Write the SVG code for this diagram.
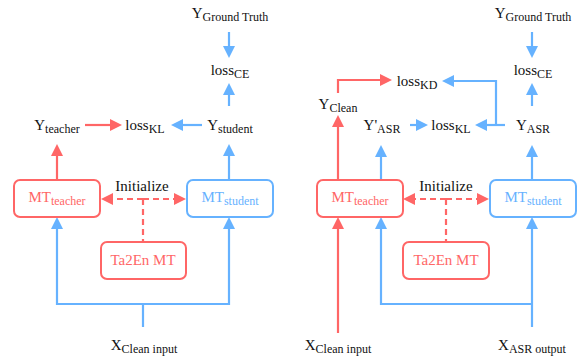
<svg xmlns="http://www.w3.org/2000/svg" width="580" height="356" viewBox="0 0 580 356" font-family="'Liberation Serif', 'DejaVu Serif', serif">
<style>
text{font-family:'Liberation Serif','DejaVu Serif',serif;font-size:15px;fill:#111;text-anchor:middle}
.s{font-size:12px}
.box{fill:#fff;stroke-width:2}
.rb{stroke:#FF6666}.bb{stroke:#66B2FF}
.rt{fill:#FF6666}.bt{fill:#66B2FF}
.cr{fill:none;stroke:#FF6666;stroke-width:2.2}
.cb{fill:none;stroke:#66B2FF;stroke-width:2.2}
.dash{stroke-dasharray:6 4}
</style>
<defs>
<marker id="ar" markerUnits="userSpaceOnUse" markerWidth="12" markerHeight="12" refX="1" refY="6" orient="auto"><path d="M0,0 L12,6 L0,12 z" fill="#FF6666"/></marker>
<marker id="ab" markerUnits="userSpaceOnUse" markerWidth="12" markerHeight="12" refX="1" refY="6" orient="auto"><path d="M0,0 L12,6 L0,12 z" fill="#66B2FF"/></marker>
</defs>
<g id="connectors">
<path class="cb" d="M229,32 V47" marker-end="url(#ab)"/>
<path class="cb" d="M229,106 V94" marker-end="url(#ab)"/>
<path class="cr" d="M85,125 H111" marker-end="url(#ar)"/>
<path class="cb" d="M202,125 H182" marker-end="url(#ab)"/>
<path class="cr" d="M57,179 V155" marker-end="url(#ar)"/>
<path class="cb" d="M229,179 V155" marker-end="url(#ab)"/>
<path class="cr dash" d="M143,199 H112" marker-end="url(#ar)"/>
<path class="cr dash" d="M143,199 H175" marker-end="url(#ar)"/>
<path class="cr dash" d="M143,199 V241"/>
<path class="cb" d="M143,327 V304 H57 V228" marker-end="url(#ab)"/>
<path class="cb" d="M143,304 H229 V228" marker-end="url(#ab)"/>
<path class="cb" d="M532,32 V47" marker-end="url(#ab)"/>
<path class="cb" d="M532,106 V94" marker-end="url(#ab)"/>
<path class="cr" d="M338,93 V80 H381" marker-end="url(#ar)"/>
<path class="cb" d="M505,125 H486" marker-end="url(#ab)"/>
<path class="cb" d="M496,125 V81 H453" marker-end="url(#ab)"/>
<path class="cb" d="M410,125 H417" marker-end="url(#ab)"/>
<path class="cr" d="M338,179 V126" marker-end="url(#ar)"/>
<path class="cb" d="M381,179 V156" marker-end="url(#ab)"/>
<path class="cb" d="M532,179 V156" marker-end="url(#ab)"/>
<path class="cr dash" d="M446,199 H414" marker-end="url(#ar)"/>
<path class="cr dash" d="M446,199 H478" marker-end="url(#ar)"/>
<path class="cr dash" d="M446,199 V241"/>
<path class="cr" d="M338,333 V228" marker-end="url(#ar)"/>
<path class="cb" d="M532,327 V228" marker-end="url(#ab)"/>
<path class="cb" d="M532,304 H381 V228" marker-end="url(#ab)"/>
</g>
<g id="L_gt"><text x="230" y="18">Y<tspan class="s" dy="3">Ground Truth</tspan></text></g>
<g id="L_lossCE"><text x="230" y="75">loss<tspan class="s" dy="3">CE</tspan></text></g>
<g id="L_yteacher"><text x="57" y="130">Y<tspan class="s" dy="3">teacher</tspan></text></g>
<g id="L_lossKL"><text x="145" y="130">loss<tspan class="s" dy="3">KL</tspan></text></g>
<g id="L_ystudent"><text x="230" y="130">Y<tspan class="s" dy="3">student</tspan></text></g>
<g id="L_mtteacher"><rect class="box rb" x="14" y="180" width="86" height="37" rx="6"/><text class="rt" x="57" y="202">MT<tspan class="s" dy="3">teacher</tspan></text></g>
<g id="L_mtstudent"><rect class="box bb" x="187" y="180" width="86" height="37" rx="6"/><text class="bt" x="230" y="202">MT<tspan class="s" dy="3">student</tspan></text></g>
<g id="L_init"><text x="142" y="191">Initialize</text></g>
<g id="L_ta2en"><rect class="box rb" x="101" y="242" width="85" height="37" rx="6"/><text class="rt" x="143" y="265">Ta2En MT</text></g>
<g id="L_xclean"><text x="144" y="350">X<tspan class="s" dy="3">Clean input</tspan></text></g>
<g id="R_gt"><text x="533" y="18">Y<tspan class="s" dy="3">Ground Truth</tspan></text></g>
<g id="R_lossCE"><text x="533" y="75">loss<tspan class="s" dy="3">CE</tspan></text></g>
<g id="R_lossKD"><text x="417" y="86">loss<tspan class="s" dy="3">KD</tspan></text></g>
<g id="R_yclean"><text x="338" y="109">Y<tspan class="s" dy="3">Clean</tspan></text></g>
<g id="R_yasrp"><text x="382" y="130">Y'<tspan class="s" dy="3">ASR</tspan></text></g>
<g id="R_lossKL"><text x="451" y="130">loss<tspan class="s" dy="3">KL</tspan></text></g>
<g id="R_yasr"><text x="533" y="130">Y<tspan class="s" dy="3">ASR</tspan></text></g>
<g id="R_mtteacher"><rect class="box rb" x="317" y="180" width="86" height="37" rx="6"/><text class="rt" x="360" y="202">MT<tspan class="s" dy="3">teacher</tspan></text></g>
<g id="R_mtstudent"><rect class="box bb" x="490" y="180" width="86" height="37" rx="6"/><text class="bt" x="533" y="202">MT<tspan class="s" dy="3">student</tspan></text></g>
<g id="R_init"><text x="446" y="191">Initialize</text></g>
<g id="R_ta2en"><rect class="box rb" x="403" y="242" width="86" height="37" rx="6"/><text class="rt" x="446" y="265">Ta2En MT</text></g>
<g id="R_xclean"><text x="338" y="350">X<tspan class="s" dy="3">Clean input</tspan></text></g>
<g id="R_xasr"><text x="532" y="350">X<tspan class="s" dy="3">ASR output</tspan></text></g>
</svg>
